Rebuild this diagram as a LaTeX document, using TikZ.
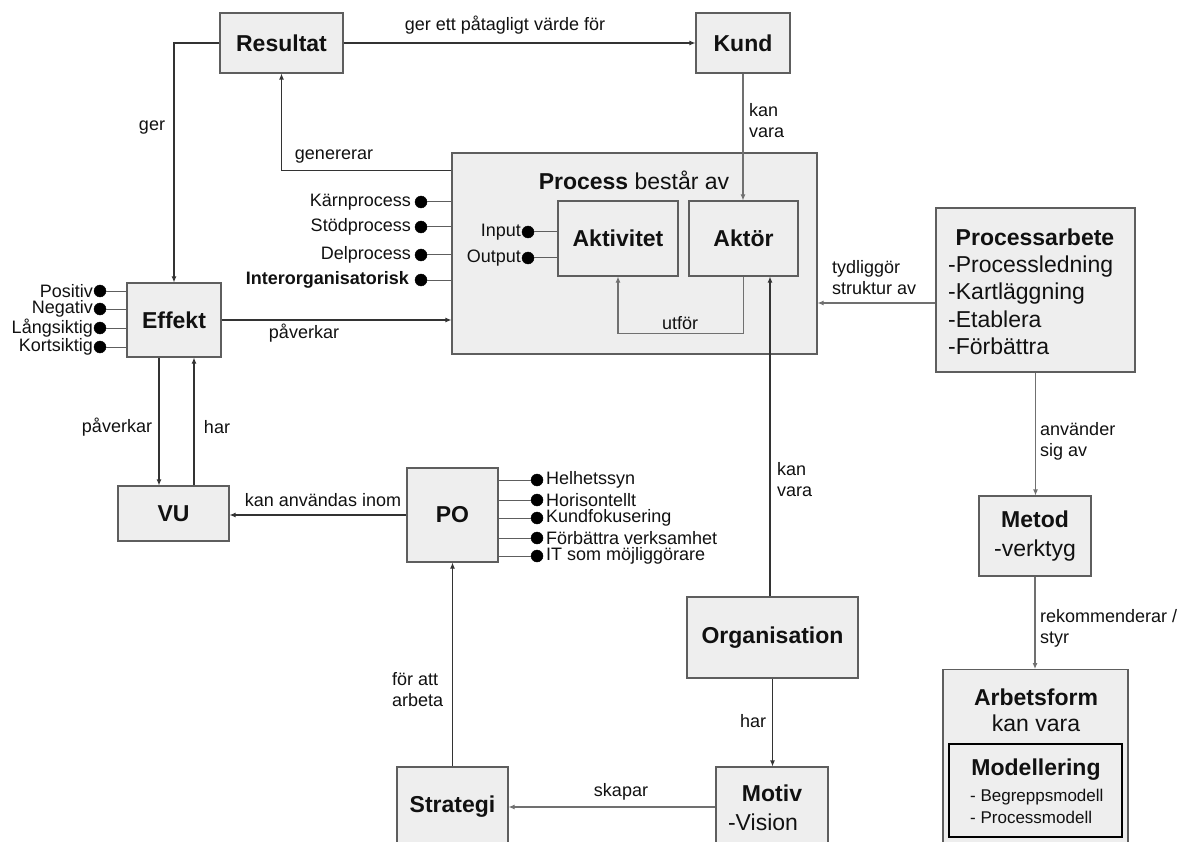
\documentclass[tikz,border=0pt]{standalone}
\usepackage{fontspec}
\setmainfont{Liberation Sans}
\usetikzlibrary{arrows.meta,calc}
\definecolor{boxfill}{HTML}{EEEEEE}
\definecolor{boxline}{HTML}{5E5E5E}
\definecolor{darkline}{HTML}{333333}
\definecolor{lightline}{HTML}{707070}
\definecolor{txt}{HTML}{111111}
\begin{document}
\begin{tikzpicture}[x=1pt,y=-1pt,
  box/.style={draw=boxline,fill=boxfill,line width=1.1pt,inner sep=0pt,text=txt},
  ttl/.style={font=\bfseries\fontsize{23}{27}\selectfont,text=txt,inner sep=0pt},
  big/.style={font=\fontsize{23}{27}\selectfont,text=txt,inner sep=0pt},
  lab/.style={font=\fontsize{18}{21}\selectfont,text=txt,inner sep=0pt},
  sml/.style={font=\fontsize{17}{22}\selectfont,text=txt,inner sep=0pt},
  dotn/.style={circle,fill=black,draw=black,inner sep=0pt,minimum size=12pt},
  bline/.style={draw=boxline,line width=1pt},
  arr/.style={draw=darkline,line width=1.1pt,-{Latex[length=6pt,width=5pt]}},
  arrl/.style={draw=lightline,line width=1.1pt,-{Latex[length=6pt,width=5pt]}}]
\useasboundingbox (0,0) rectangle (1185,842);
\clip (0,0) rectangle (1185,842);
\fill[white] (0,0) rectangle (1185,842);

% ---------- boxes ----------
\node[box,ttl,minimum width=123pt,minimum height=60pt] (res) at (281.5,43) {Resultat};
\node[box,ttl,minimum width=94pt,minimum height=60pt] (kund) at (743,43) {Kund};
\node[box,minimum width=365pt,minimum height=201pt] (proc) at (634.5,253.5) {};
\node[big] (proct) at (634,180) {\textbf{Process} består av};
\node[box,ttl,minimum width=120pt,minimum height=75pt] (akt) at (618,238.5) {Aktivitet};
\node[box,ttl,minimum width=109pt,minimum height=75pt] (aktor) at (743.5,238.5) {Aktör};
\node[box,ttl,minimum width=94pt,minimum height=74pt] (eff) at (174,320) {Effekt};
\node[box,ttl,minimum width=111pt,minimum height=55pt] (vu) at (173.5,513.5) {VU};
\node[box,ttl,minimum width=91pt,minimum height=94pt] (po) at (452.5,515) {PO};
\node[box,ttl,minimum width=111pt,minimum height=80pt] (strat) at (452.5,807) {Strategi};
\node[box,minimum width=112pt,minimum height=80pt] (motiv) at (772,807) {};
\node[ttl] (motivt) at (772,793) {Motiv};
\node[big] (motivv) at (763,822) {-Vision};
\node[box,ttl,minimum width=171pt,minimum height=81pt] (org) at (772.5,637.5) {Organisation};
\node[box,minimum width=199pt,minimum height=164pt] (parb) at (1035.5,290) {};
\node[ttl] (parbt) at (1035,237) {Processarbete};
\node[big,align=left,anchor=west,font=\fontsize{23}{27.5}\selectfont] (parbl) at (948,305.5) {-Processledning\\-Kartläggning\\-Etablera\\-Förbättra};
\node[box,big,align=center,font=\fontsize{23}{29}\selectfont,minimum width=112pt,minimum height=80pt] (metod) at (1035,536) {\textbf{Metod}\\-verktyg};
\node[box,anchor=north,minimum width=185pt,minimum height=190pt] (arb) at (1035.5,669) {};
\node[big,align=center,font=\fontsize{23}{26}\selectfont] (arbt) at (1036,710) {\textbf{Arbetsform}\\kan vara};
\node[box,draw=black,line width=1.6pt,minimum width=173pt,minimum height=93pt] (model) at (1035.5,790.5) {};
\node[ttl] (modelt) at (1036,770) {Modellering};
\node[sml,align=left,anchor=west] (modell) at (970,806) {- Begreppsmodell\\- Processmodell};

% ---------- bullets: Process ----------
\foreach \n/\y/\t in {k1/202/Kärnprocess,k2/227/Stödprocess,k3/255/Delprocess}{
  \node[dotn] (\n) at (421,\y) {};
  \draw[bline] (\n) -- (\n -| proc.west);
  \node[lab,anchor=east] (\n t) at (411,\y) {\t};
}
\node[dotn] (k4) at (421,280) {};
\draw[bline] (k4) -- (k4 -| proc.west);
\node[lab,anchor=east,font=\bfseries\fontsize{18}{21}\selectfont] (k4t) at (409,280) {Interorganisatorisk};

% ---------- bullets: Effekt ----------
\foreach \n/\y/\t in {e1/291/Positiv,e2/309/Negativ,e3/328/Långsiktig,e4/347/Kortsiktig}{
  \node[dotn] (\n) at (100,\y) {};
  \draw[bline] (\n) -- (\n -| eff.west);
  \node[lab,anchor=east] (\n t) at (93,\y) {\t};
}

% ---------- bullets: PO ----------
\foreach \n/\y/\t in {p1/480/Helhetssyn,p2/500/Horisontellt,p3/518/Kundfokusering,p4/538/Förbättra verksamhet,p5/556/IT som möjliggörare}{
  \node[dotn] (\n) at (537,\y) {};
  \draw[bline] (\n) -- (\n -| po.east);
  \node[lab,anchor=west] (\n t) at (546,\y) {\t};
}

% ---------- Input / Output ----------
\node[dotn] (din) at (528,232) {};
\draw[bline] (din) -- (din -| akt.west);
\node[lab,anchor=east] (dint) at (521,232) {Input};
\node[dotn] (dout) at (528,258) {};
\draw[bline] (dout) -- (dout -| akt.west);
\node[lab,anchor=east] (doutt) at (521,258) {Output};

% ---------- connectors ----------
\draw[arr] (res.east) -- (kund.west);
\node[lab] (l1) at (505,25) {ger ett påtagligt värde för};

\draw[arr] (res.west) -| (eff.north);
\node[lab] (l2) at (152,128) {ger};

\coordinate (gen) at ($(proc.north west)+(0,18)$);
\draw[arr] (gen) -| (res.south);
\node[lab] (l3) at (334,157) {genererar};

\draw[arrl] (kund.south) -- (kund.south |- aktor.north);
\node[lab,align=left,anchor=west] (l4) at (749,121) {kan\\vara};

\draw[arrl] (aktor.south) -- ++(0,57) -| (akt.south);
\node[lab] (l5) at (680,323) {utför};

\draw[arr] (eff.east) -- (eff.east -| proc.west);
\node[lab] (l6) at (304,333) {påverkar};

\draw[arr] ([xshift=-15pt]eff.south) -- ([xshift=-15pt]eff.south |- vu.north);
\node[lab] (l7) at (117,427) {påverkar};
\draw[arr] ([xshift=20pt]eff.south |- vu.north) -- ([xshift=20pt]eff.south);
\node[lab] (l8) at (217,427) {har};

\draw[arr] (po.west) -- (po.west -| vu.east);
\node[lab] (l9) at (323,500) {kan användas inom};

\draw[arr] (strat.north) -- (po.south);
\node[lab,align=left,anchor=west] (l10) at (392,690) {för att\\arbeta};

\draw[arrl] (motiv.west) -- (strat.east);
\node[lab] (l11) at (621,792) {skapar};

\draw[arr] ([xshift=-2.5pt]org.north) -- ([xshift=-2.5pt]org.north |- aktor.south);
\node[lab,align=left,anchor=west] (l12) at (777,480) {kan\\vara};

\draw[arr] (org.south) -- (org.south |- motiv.north);
\node[lab] (l13) at (753,721) {har};

\coordinate (tyd) at ($(parb.west)+(0,13)$);
\draw[arrl] (tyd) -- (tyd -| proc.east);
\node[lab,align=left,anchor=west] (l14) at (832,278) {tydliggör\\struktur av};

\draw[arrl] (parb.south) -- (parb.south |- metod.north);
\node[lab,align=left,anchor=west] (l15) at (1040,441) {använder\\sig av};

\draw[arrl] (metod.south) -- (metod.south |- arb.north);
\node[lab,align=left,anchor=west] (l16) at (1040,628) {rekommenderar /\\styr};
\end{tikzpicture}
\end{document}
